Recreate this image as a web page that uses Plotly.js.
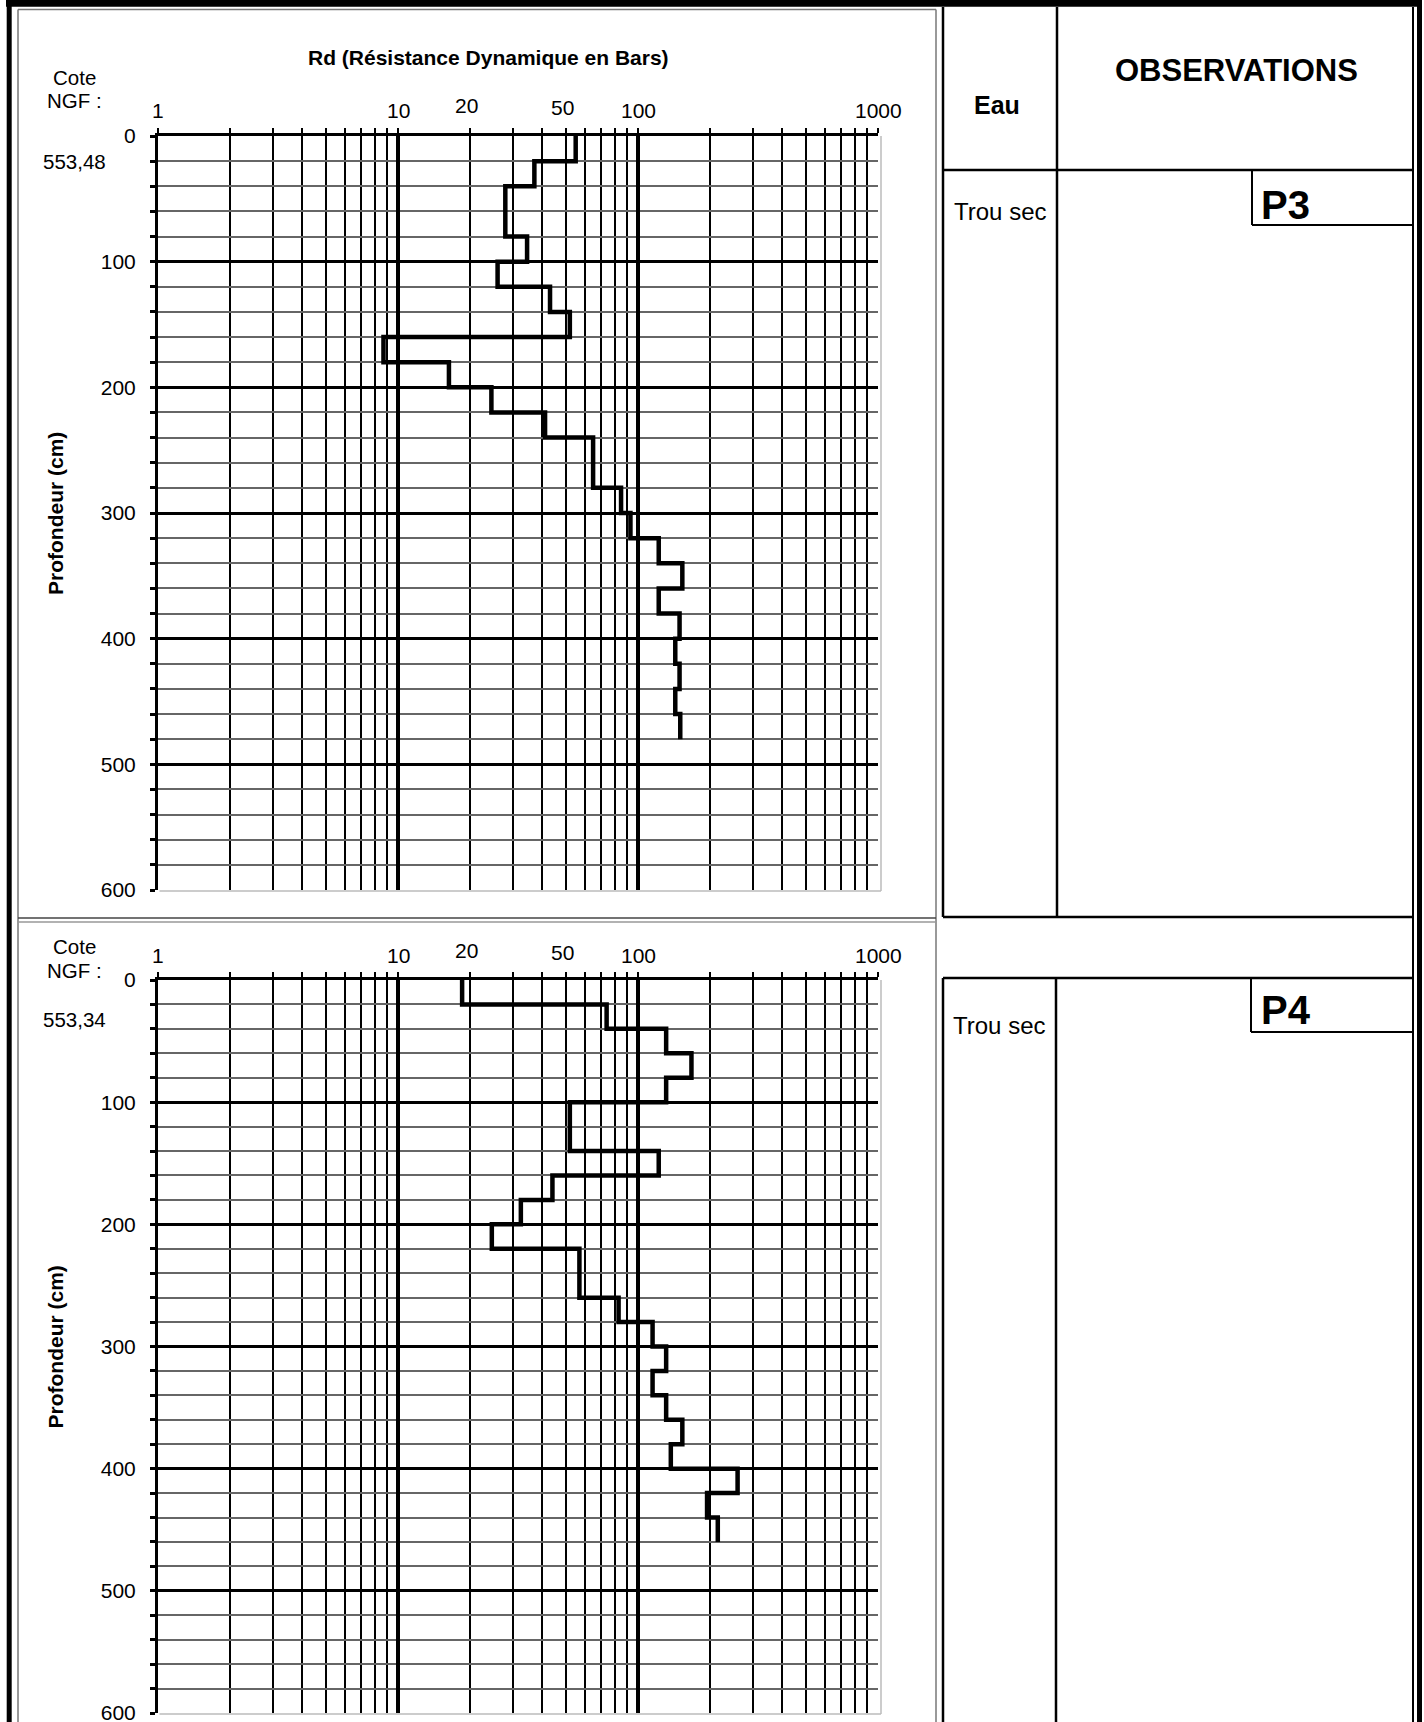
<!DOCTYPE html>
<html>
<head>
<meta charset="utf-8">
<script src="https://cdn.plot.ly/plotly-3.0.1.min.js"></script>
<style>
html,body{margin:0;padding:0;background:#fff;}
#chart{width:1424px;height:1722px;}
</style>
</head>
<body>
<div id="chart"></div>
<script>
// ---------------- DATA ----------------
const xTickLabels = [1, 10, 20, 50, 100, 1000];
const depthTicks = [0, 100, 200, 300, 400, 500, 600];
const stepCm = 20;

// P3 : penetrometer profile (top of each 20 cm layer, Rd in bars)
const p3DepthTop = [0,20,40,60,80,100,120,140,160,180,200,220,240,260,280,300,320,340,360,380,400,420,440,460];
const p3Rd       = [55,37,28,28,34.5,26,43,52,8.7,16.3,24.5,41,65,65,85,93,122,153,122,149,143,149,143,150];

// P4
const p4DepthTop = [0,20,40,60,80,100,120,140,160,180,200,220,240,260,280,300,320,340,360,380,400,420,440];
const p4Rd       = [18.5,74,131,167,131,52,52,122,44,32.5,24.6,57,57,83,115,131,115,131,153,137,260,194,215];

const coteNGF   = ['553,48', '553,34'];
const sondages  = ['P3', 'P4'];
const eauObs    = ['Trou sec', 'Trou sec'];
const titleText = 'Rd (Résistance Dynamique en Bars)';
const yTitle    = 'Profondeur (cm)';

// ---------------- HELPERS ----------------
const W = 1424, H = 1722;
const X = px => px / W;
const Y = py => 1 - py / H;
const FONT = 'Arial, "Liberation Sans", sans-serif';

function stepTrace(depthTop, rd, xa, ya) {
  const xs = rd.concat([rd[rd.length - 1]]);
  const ys = depthTop.concat([depthTop[depthTop.length - 1] + stepCm]);
  return {
    x: xs, y: ys, xaxis: xa, yaxis: ya, type: 'scatter', mode: 'lines',
    line: {color: '#000', width: 4.5, shape: 'vh'}, hoverinfo: 'skip'
  };
}

const minorX = [];
for (let d = 1; d <= 100; d *= 10) for (let k = 2; k <= 9; k++) minorX.push(k * d);
minorX.push(1000);

function xAxis(anchor) {
  return {
    type: 'log', range: [0, 3], domain: [X(158), X(878)], side: 'top', anchor: anchor,
    showline: true, linewidth: 3, linecolor: '#000',
    ticks: 'outside', ticklen: 5, tickwidth: 2, tickcolor: '#000',
    tickmode: 'array', tickvals: [1, 10, 100], showticklabels: false,
    showgrid: true, gridcolor: '#000', gridwidth: 4, zeroline: false,
    minor: {tickmode: 'array', tickvals: minorX, ticks: 'outside', ticklen: 5, tickwidth: 2,
            tickcolor: '#000', showgrid: true, gridcolor: '#000', gridwidth: 2},
    fixedrange: true
  };
}
function yAxis(anchor, top, bottom) {
  return {
    range: [600, 0], domain: [Y(bottom), Y(top)], anchor: anchor,
    showline: true, linewidth: 3, linecolor: '#000',
    ticks: 'outside', ticklen: 5, tickwidth: 3, tickcolor: '#000',
    tickmode: 'array', tickvals: depthTicks, ticktext: depthTicks.map(String),
    tickfont: {family: FONT, size: 21, color: '#000'}, ticklabelstandoff: 10,
    ticklabeloverflow: 'allow',
    showgrid: true, gridcolor: '#000', gridwidth: 3, zeroline: false,
    minor: {dtick: stepCm, tick0: 0, ticks: 'outside', ticklen: 5, tickwidth: 3,
            tickcolor: '#000', showgrid: true, gridcolor: '#666', gridwidth: 2},
    fixedrange: true
  };
}

// chart panels (pixel frame of each plot)
const panels = [
  {top: 136, bottom: 890, labelY: 110, coteY: 78, ngfY: 101, valY: 161.5, xa: 'x', ya: 'y'},
  {top: 980, bottom: 1713, labelY: 955, coteY: 946, ngfY: 970, valY: 1019.5, xa: 'x2', ya: 'y2'}
];
const labelShift = {20: {dx: -4, dy: 4.5}, 50: {dx: -3, dy: 3}};

const annotations = [];
function txt(text, px, py, size, bold, extra) {
  annotations.push(Object.assign({
    text: bold ? '<b>' + text + '</b>' : text, xref: 'paper', yref: 'paper',
    x: X(px), y: Y(py), xanchor: 'center', yanchor: 'middle', showarrow: false,
    font: {family: FONT, size: size, color: '#000'}
  }, extra || {}));
}

txt(titleText, 488, 58, 21, true);
panels.forEach((p, i) => {
  xTickLabels.forEach(v => {
    const s = labelShift[v] || {dx: 0, dy: 0};
    annotations.push({
      text: String(v), xref: p.xa, yref: 'paper', x: Math.log10(v), y: Y(p.labelY),
      xanchor: 'center', yanchor: 'middle', showarrow: false, xshift: s.dx, yshift: s.dy,
      font: {family: FONT, size: 21, color: '#000'}
    });
  });
  txt('Cote', 74.5, p.coteY, 20.5, false);
  txt('NGF :', 74, p.ngfY, 20.5, false);
  txt(coteNGF[i], 74, p.valY, 20.5, false);
  txt(yTitle, 55, (p.top + p.bottom) / 2, 21, true, {textangle: -90});
});

// right-hand table texts
txt('Eau', 997, 105, 25, true);
txt('OBSERVATIONS', 1236, 70, 31, true);
txt(eauObs[0], 1000, 211, 24, false);
txt(sondages[0], 1259, 205, 40, true, {xanchor: 'left'});
txt(eauObs[1], 999, 1025, 24, false);
txt(sondages[1], 1259, 1010, 40, true, {xanchor: 'left'});

// ---------------- FRAME SHAPES ----------------
const shapes = [];
function ln(x0, y0, x1, y1, w, c, layer) {
  shapes.push({type: 'line', xref: 'paper', yref: 'paper', x0: X(x0), y0: Y(y0), x1: X(x1), y1: Y(y1),
               line: {color: c || '#000', width: w}, layer: layer || 'above'});
}
// outer border
ln(6, 3.4, 1422, 3.4, 6.8);
ln(9.2, 0, 9.2, H, 5);
ln(1419.5, 0, 1419.5, H, 5);
// inner thin lines of left panel
ln(18, 9.5, 18, H, 1.5, '#777');
ln(18, 9.5, 936, 9.5, 1.5, '#777');
ln(936, 9.5, 936, H, 1.5, '#777');
ln(18, 918, 936, 918, 1.5, '#444');
ln(18, 922, 936, 922, 1.5, '#999');
// plot area light border (bottom edge of the grid is light grey, not black)
panels.forEach(p => {
  ln(160, p.bottom + 0.5, 882, p.bottom + 0.5, 4.5, '#fff', 'below');
  ln(881, p.top, 881, p.bottom + 1, 1.5, '#bbb');
  ln(159.5, p.bottom + 1, 881, p.bottom + 1, 1.5, '#bbb');
});
// top table
ln(943, 7, 943, 917, 2.5);
ln(1057, 7, 1057, 917, 2.5);
ln(1413, 7, 1413, H, 2);
ln(943, 170, 1413, 170, 2.5);
ln(943, 917, 1413, 917, 2.5);
ln(1252, 170, 1252, 225, 2);
ln(1252, 225, 1413, 225, 2);
// bottom table
ln(943, 978, 1413, 978, 2.5);
ln(943, 978, 943, H, 2.5);
ln(1056, 978, 1056, H, 2.5);
ln(1251, 978, 1251, 1032, 2);
ln(1251, 1032, 1413, 1032, 2);

const data = [
  stepTrace(p3DepthTop, p3Rd, 'x', 'y'),
  stepTrace(p4DepthTop, p4Rd, 'x2', 'y2')
];

const layout = {
  width: W, height: H, margin: {l: 0, r: 0, t: 0, b: 0, pad: 0},
  paper_bgcolor: '#fff', plot_bgcolor: '#fff', showlegend: false,
  font: {family: FONT, size: 21, color: '#000'},
  xaxis: xAxis('y'), yaxis: yAxis('x', panels[0].top, panels[0].bottom),
  xaxis2: xAxis('y2'), yaxis2: yAxis('x2', panels[1].top, panels[1].bottom),
  annotations: annotations, shapes: shapes
};

Plotly.newPlot('chart', data, layout, {staticPlot: true, displayModeBar: false});
</script>
</body>
</html>
